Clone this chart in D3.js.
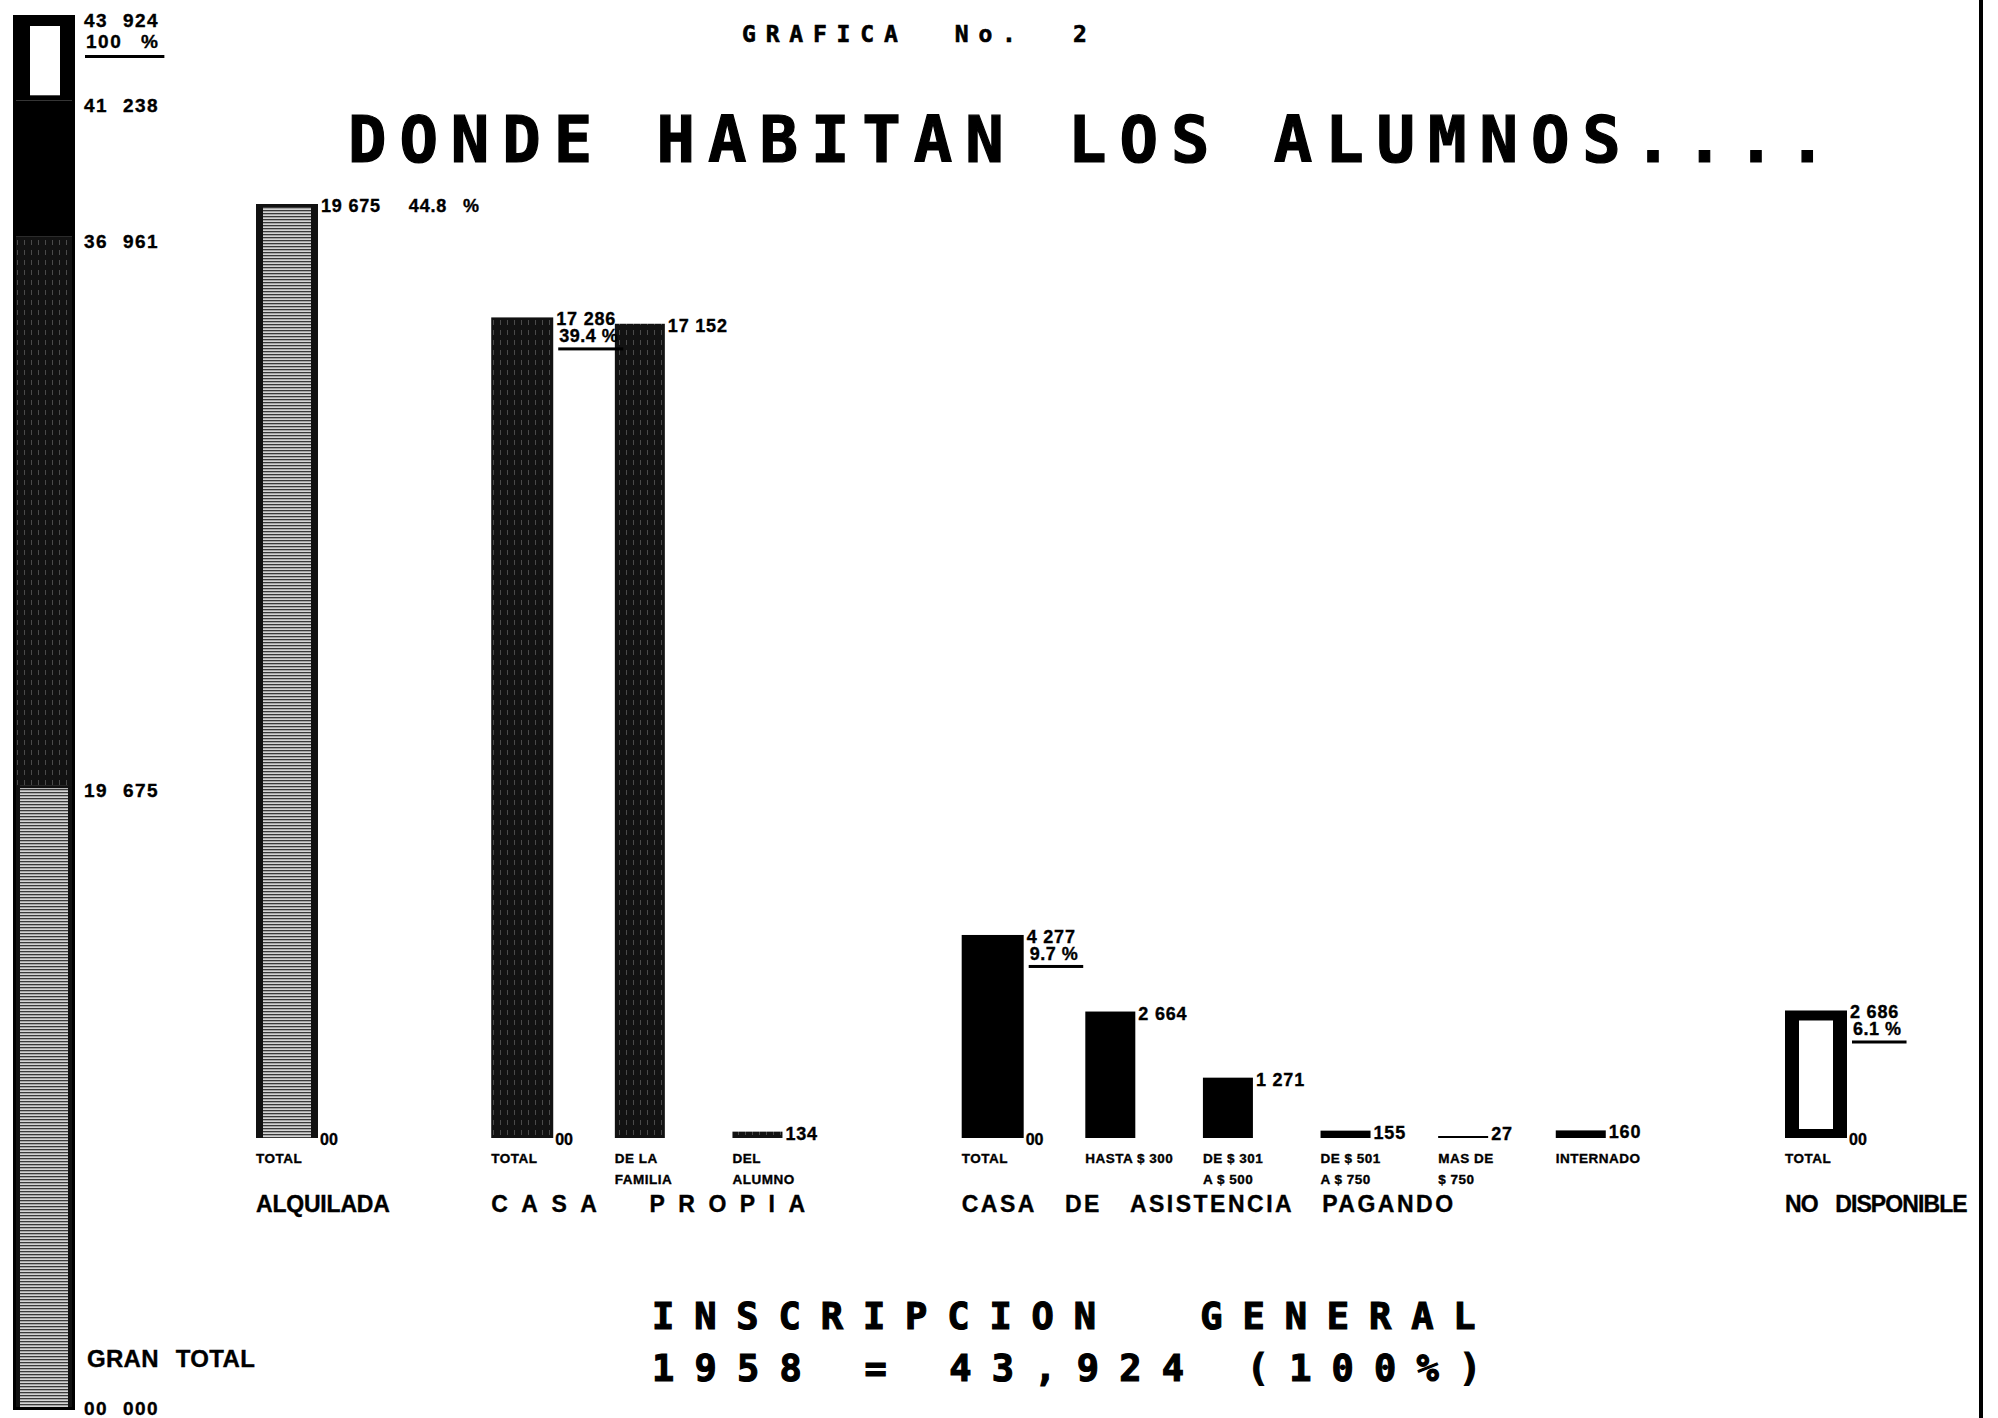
<!DOCTYPE html>
<html>
<head>
<meta charset="utf-8">
<script src="https://cdn.jsdelivr.net/npm/d3@7"></script>
<style>
body { margin: 0; background: #fff; }
svg text { font-family: "Liberation Sans", Arial, sans-serif; font-weight: bold; fill: #000; stroke: #000; stroke-width: 0.35; }
svg text.lettered { font-family: "DejaVu Sans Mono", monospace; stroke-width: 1.2; }
</style>
</head>
<body>
<svg width="1998" height="1418"></svg>
<script>
// ---- data ----
var barCats = ["alq-total", "prop-total", "prop-familia", "prop-alumno", "asis-total", "asis-300",
               "asis-500", "asis-750", "asis-mas750", "asis-internado", "nd-total"];
var barValues = [19675, 17286, 17152, 134, 4277, 2664, 1271, 155, 27, 160, 2686];
var barGroup = [0, 1, 1, 1, 2, 2, 2, 2, 2, 2, 3];
var barValueText = ["19 675", "17 286", "17 152", "134", "4 277", "2 664", "1 271", "155", "27", "160", "2 686"];
var barPercent = ["44.8 %", "39.4 %", null, null, "9.7 %", null, null, null, null, null, "6.1 %"];
var barLabels = [["TOTAL"], ["TOTAL"], ["DE LA", "FAMILIA"], ["DEL", "ALUMNO"], ["TOTAL"], ["HASTA $ 300"],
                 ["DE $ 301", "A $ 500"], ["DE $ 501", "A $ 750"], ["MAS DE", "$ 750"], ["INTERNADO"], ["TOTAL"]];
var groupNames = ["ALQUILADA", "CASA PROPIA", "CASA DE ASISTENCIA PAGANDO", "NO DISPONIBLE"];

var stackValues = [19675, 17286, 4277, 2686];   // same groups, stacked
var stackTickValues = [0, 19675, 36961, 41238, 43924];
var stackTickText = ["00 000", "19 675", "36 961", "41 238", "43 924"];
var totalInscritos = 43924;

var svg = d3.select("svg");
svg.append("rect").attr("width", 1998).attr("height", 1418).attr("fill", "#fff");

// patterns
var defs = svg.append("defs");
var hp = defs.append("pattern").attr("id", "hstripe").attr("patternUnits", "userSpaceOnUse")
  .attr("width", 6).attr("height", 3);
hp.append("rect").attr("width", 6).attr("height", 3).attr("fill", "#d4d4d4");
hp.append("rect").attr("width", 6).attr("height", 1.3).attr("fill", "#3a3a3a");
var vp = defs.append("pattern").attr("id", "vstripe").attr("patternUnits", "userSpaceOnUse")
  .attr("width", 7).attr("height", 10);
vp.append("rect").attr("width", 7).attr("height", 10).attr("fill", "#121212");
vp.append("rect").attr("x", 3).attr("width", 1).attr("height", 5).attr("fill", "#4a4a4a");

// draw one bar in the style of its group
function drawBar(sel, x, yTop, w, h, g, inset) {
  var b = sel.append("g");
  if (g === 0) {
    b.append("rect").attr("x", x).attr("y", yTop).attr("width", w).attr("height", h).attr("fill", "url(#hstripe)");
    b.append("rect").attr("x", x).attr("y", yTop).attr("width", 7).attr("height", h).attr("fill", "#111");
    b.append("rect").attr("x", x + w - 7).attr("y", yTop).attr("width", 7).attr("height", h).attr("fill", "#111");
    b.append("rect").attr("x", x).attr("y", yTop).attr("width", w).attr("height", 3).attr("fill", "#111");
  } else if (g === 1) {
    b.append("rect").attr("x", x).attr("y", yTop).attr("width", w).attr("height", h).attr("fill", "url(#vstripe)");
  } else if (g === 2) {
    b.append("rect").attr("x", x).attr("y", yTop).attr("width", w).attr("height", h).attr("fill", "#000");
  } else {
    b.append("rect").attr("x", x).attr("y", yTop).attr("width", w).attr("height", h).attr("fill", "#000");
    b.append("rect").attr("x", x + inset[0]).attr("y", yTop + inset[1])
      .attr("width", w - inset[0] - inset[2]).attr("height", h - inset[1] - inset[3]).attr("fill", "#fff");
  }
}

// ---- main chart ----
var xDomain = [];
barCats.forEach(function (c, i) {
  if (i > 0 && barGroup[i] !== barGroup[i - 1]) xDomain.push("gap" + i);
  xDomain.push(c);
});
var x = d3.scalePoint().domain(xDomain).range([287, 1816]);
var y = d3.scaleLinear().domain([0, d3.max(barValues)]).range([1138, 204]);

function barW(i) { return barGroup[i] !== barGroup[i - 1] ? 62 : 50; }
function barX(i) { return x(barCats[i]) - barW(i) / 2; }

var chart = svg.append("g");
barValues.forEach(function (v, i) {
  var h = Math.max(y(0) - y(v), 2);
  drawBar(chart, barX(i), y(0) - h, barW(i), h, barGroup[i], [14, 10, 14, 9]);
});

// value labels
barValues.forEach(function (v, i) {
  var lx = barX(i) + barW(i) + 3, top = y(v);
  var t = chart.append("text").attr("x", lx).attr("y", Math.min(top + 8, 1140))
    .attr("font-size", 18).attr("letter-spacing", 0.8).text(barValueText[i]);
  if (barPercent[i] && i === 0) {
    t.append("tspan").attr("dx", 28).attr("word-spacing", 10).text(barPercent[i]);
  } else if (barPercent[i]) {
    var p = chart.append("text").attr("x", lx + 3).attr("y", top + 25).attr("font-size", 18)
      .attr("letter-spacing", 0.5).text(barPercent[i]);
    var pw = p.node().getComputedTextLength();
    chart.append("rect").attr("x", lx + 2).attr("y", top + 30).attr("width", pw + 6).attr("height", 3).attr("fill", "#000");
  }
  // zero mark at the foot of each group total
  if (barGroup[i] !== barGroup[i - 1]) {
    chart.append("text").attr("x", lx - 1).attr("y", y(0) + 7).attr("font-size", 16).text("00");
  }
});

// category labels under the bars
barLabels.forEach(function (lines, i) {
  lines.forEach(function (s, k) {
    chart.append("text").attr("x", barX(i)).attr("y", 1163 + k * 21)
      .attr("font-size", 13.5).attr("letter-spacing", 0.5).text(s);
  });
});

// group labels
var groupSpacing = [[-0.2, 0], [13.5, 20], [2.5, 20], [-0.9, 12]];
groupNames.forEach(function (name, g) {
  var first = barGroup.indexOf(g);
  chart.append("text").attr("x", barX(first)).attr("y", 1212).attr("font-size", 23)
    .attr("letter-spacing", groupSpacing[g][0]).attr("word-spacing", groupSpacing[g][1])
    .style("white-space", "pre").text(name);
});

// ---- stacked bar on the left ----
var ys = d3.scaleLinear().domain([0, totalInscritos]).range([1410, 15]);
var stack = svg.append("g");
var acc = 0;
stackValues.forEach(function (v, g) {
  var y0 = ys(acc), y1 = ys(acc + v);
  drawBar(stack, 13, y1, 62, y0 - y1, g, [17, 11, 15, 5]);
  acc += v;
});
stack.append("rect").attr("x", 14.5).attr("y", 16.5).attr("width", 59).attr("height", 1392)
  .attr("fill", "none").attr("stroke", "#000").attr("stroke-width", 3);

stackTickValues.forEach(function (v, i) {
  stack.append("text").attr("x", 84).attr("y", Math.min(ys(v) + 12, 1415))
    .attr("font-size", 19).attr("letter-spacing", 1.5).attr("word-spacing", 8)
    .text(stackTickText[i]);
});
var pct = stack.append("text").attr("x", 86).attr("y", ys(totalInscritos) + 33)
  .attr("font-size", 19).attr("letter-spacing", 1.5).attr("word-spacing", 12).text("100 %");
stack.append("rect").attr("x", 85).attr("y", ys(totalInscritos) + 40)
  .attr("width", pct.node().getComputedTextLength() + 6).attr("height", 3).attr("fill", "#000");
stack.append("text").attr("x", 87).attr("y", 1367).attr("font-size", 24)
  .attr("letter-spacing", 0.3).attr("word-spacing", 10).text("GRAN TOTAL");

// ---- titles (lettering-guide style) ----
svg.append("text").attr("class", "lettered").attr("x", 742).attr("y", 42).attr("font-size", 23)
  .attr("letter-spacing", 9.8).style("stroke-width", 0.6).style("white-space", "pre").text("GRAFICA  No.  2");
svg.append("text").attr("class", "lettered").attr("x", 348).attr("y", 162).attr("font-size", 64)
  .attr("letter-spacing", 12.9).style("white-space", "pre").text("DONDE HABITAN LOS ALUMNOS....");
svg.append("text").attr("class", "lettered").attr("x", 652).attr("y", 1329).attr("font-size", 37)
  .attr("letter-spacing", 19.9).style("white-space", "pre").text("INSCRIPCION  GENERAL");
svg.append("text").attr("class", "lettered").attr("x", 652).attr("y", 1381).attr("font-size", 37)
  .attr("letter-spacing", 20.2).style("white-space", "pre")
  .text("1958 = " + d3.format(",")(totalInscritos) + " (100%)");

// right edge of the sheet
svg.append("rect").attr("x", 1979).attr("y", 0).attr("width", 4).attr("height", 1418).attr("fill", "#000");
</script>
</body>
</html>
